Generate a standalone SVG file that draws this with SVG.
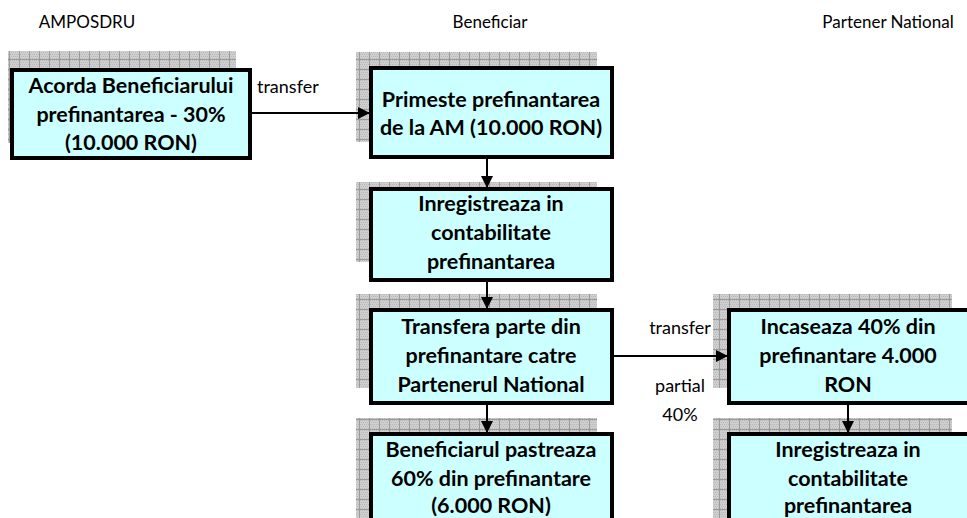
<svg xmlns="http://www.w3.org/2000/svg" width="967" height="518" viewBox="0 0 967 518">
<defs>
<pattern id="grid" width="10" height="10" patternUnits="userSpaceOnUse">
<rect width="10" height="10" fill="#cfcfcf"/>
<path d="M0,0h1v1h-1zM2,0h1v1h-1zM4,0h1v1h-1zM6,0h1v1h-1zM8,0h1v1h-1zM1,2h1v1h-1zM3,2h1v1h-1zM5,2h1v1h-1zM7,2h1v1h-1zM0,4h1v1h-1zM2,4h1v1h-1zM4,4h1v1h-1zM6,4h1v1h-1zM8,4h1v1h-1zM1,6h1v1h-1zM3,6h1v1h-1zM5,6h1v1h-1zM7,6h1v1h-1zM0,8h1v1h-1zM2,8h1v1h-1zM4,8h1v1h-1zM6,8h1v1h-1zM8,8h1v1h-1z" fill="#b8b8b8"/>
<path d="M9.5,0V10M0,9.5H10" stroke="#9a9a9a" stroke-width="1"/>
</pattern>
<marker id="arr" markerWidth="12" markerHeight="12" refX="11" refY="6" orient="auto" markerUnits="userSpaceOnUse">
<path d="M0,0L12,6L0,12z" fill="#000"/>
</marker>
</defs>
<style>
.sh{fill:url(#grid)}
.bx{fill:#ccffff;stroke:#000;stroke-width:4}
.t{font-family:Lato,"Liberation Sans",sans-serif;font-weight:bold;font-size:21.5px;fill:#000;text-anchor:middle}
.h{font-family:Lato,"Liberation Sans",sans-serif;font-size:17px;fill:#000;text-anchor:middle}
.l{font-family:Lato,"Liberation Sans",sans-serif;font-size:18px;fill:#000;text-anchor:middle}
.ls{font-family:Lato,"Liberation Sans",sans-serif;font-size:18px;fill:#000;text-anchor:start}
.c{stroke:#000;stroke-width:2;fill:none;marker-end:url(#arr)}
</style>
<g id="headers">
<text class="h" x="87" y="28">AMPOSDRU</text>
<text class="h" x="490" y="28">Beneficiar</text>
<text class="h" x="888" y="28">Partener National</text>
</g>
<g id="n1">
<rect class="sh" x="8" y="51" width="228" height="92"/>
<rect class="bx" x="12" y="70" width="238" height="88"/>
<text class="t" x="131" y="93">Acorda Beneficiarului</text>
<text class="t" x="131" y="122">prefinantarea - 30%</text>
<text class="t" x="131" y="150">(10.000 RON)</text>
</g>
<g id="n2">
<rect class="sh" x="356" y="52" width="241" height="90"/>
<rect class="bx" x="371" y="68" width="241" height="89"/>
<text class="t" x="491" y="107">Primeste prefinantarea</text>
<text class="t" x="491" y="135">de la AM (10.000 RON)</text>
</g>
<g id="n3">
<rect class="sh" x="356" y="182" width="241" height="80"/>
<rect class="bx" x="371" y="189" width="241" height="91"/>
<text class="t" x="491" y="211">Inregistreaza in</text>
<text class="t" x="491" y="240">contabilitate</text>
<text class="t" x="491" y="269">prefinantarea</text>
</g>
<g id="n4">
<rect class="sh" x="356" y="294" width="241" height="94"/>
<rect class="bx" x="371" y="310" width="241" height="93"/>
<text class="t" x="491" y="334">Transfera parte din</text>
<text class="t" x="491" y="363">prefinantare catre</text>
<text class="t" x="491" y="392">Partenerul National</text>
</g>
<g id="n5">
<rect class="sh" x="713" y="294" width="239" height="94"/>
<rect class="bx" x="729" y="310" width="245" height="93"/>
<text class="t" x="848" y="334">Incaseaza 40% din</text>
<text class="t" x="848" y="363">prefinantare 4.000</text>
<text class="t" x="848" y="392">RON</text>
</g>
<g id="n6">
<rect class="sh" x="356" y="418" width="241" height="100"/>
<rect class="bx" x="371" y="434" width="241" height="90"/>
<text class="t" x="491" y="457">Beneficiarul pastreaza</text>
<text class="t" x="491" y="486">60% din prefinantare</text>
<text class="t" x="491" y="513">(6.000 RON)</text>
</g>
<g id="n7">
<rect class="sh" x="713" y="418" width="239" height="100"/>
<rect class="bx" x="729" y="434" width="245" height="90"/>
<text class="t" x="848" y="457">Inregistreaza in</text>
<text class="t" x="848" y="486">contabilitate</text>
<text class="t" x="848" y="513">prefinantarea</text>
</g>
<g id="connectors">
<line class="c" x1="252" y1="113" x2="369" y2="113"/>
<line class="c" x1="487" y1="159" x2="487" y2="187"/>
<line class="c" x1="487" y1="282" x2="487" y2="308"/>
<line class="c" x1="614" y1="356" x2="727" y2="356"/>
<line class="c" x1="487" y1="405" x2="487" y2="432"/>
<line class="c" x1="848" y1="405" x2="848" y2="432"/>
<text class="ls" x="257" y="93">transfer</text>
<text class="l" x="680" y="334">transfer</text>
<text class="l" x="680" y="392">partial</text>
<text class="l" x="680" y="421">40%</text>
</g>
</svg>
